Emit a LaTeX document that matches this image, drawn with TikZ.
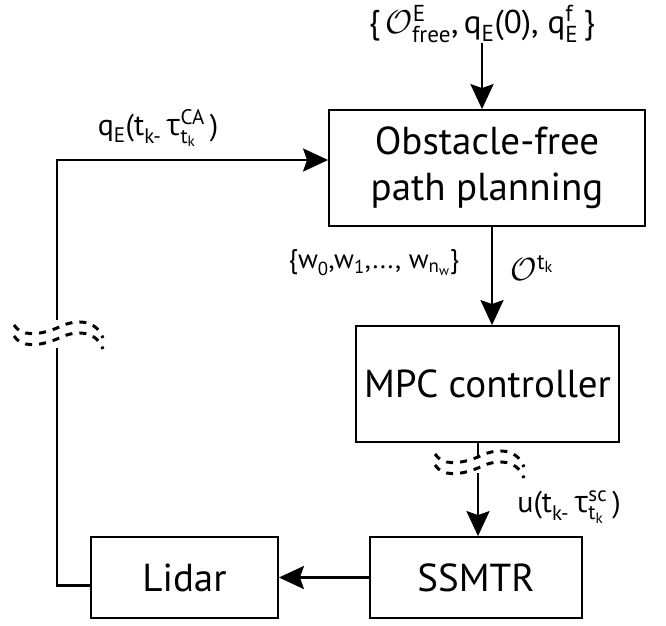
\documentclass[tikz,border=0pt]{standalone}
\usepackage{fix-cm}
\usepackage{amsmath}
\usepackage{fontspec}
\setmainfont{PT Sans}
\newfontfamily\grkfont{Open Sans}
\usetikzlibrary{arrows.meta,calc}

% sans Greek tau for the delay symbols
\newcommand\tauS{\text{\grkfont τ}}

\tikzset{
  wavebreak/.pic={
    \foreach \dy in {0,11} {
      \draw[brk] (-43,-9+\dy) .. controls (-36,2+\dy) and (-20,2+\dy) .. (0,-6+\dy)
                 .. controls (15,-14+\dy) and (38,-17+\dy) .. (46,4+\dy);
    }
  }
}

\begin{document}
\begin{tikzpicture}[x=1pt,y=-1pt,
  blk/.style={draw, line width=1.8pt, inner sep=0pt, align=center,
              font=\fontsize{39}{46}\selectfont},
  wire/.style={line width=2.8pt, line join=miter},
  conn/.style={wire, -{Stealth[length=25pt,width=23pt,inset=4pt]}},
  lbl/.style={inner sep=0pt, font=\fontsize{30}{34}\selectfont},
  brk/.style={line width=3pt, dash pattern=on 7pt off 7pt},
]
\useasboundingbox (0,0) rectangle (666,625);

% blocks
\node[blk, minimum width=316pt, minimum height=116pt] (plan) at (487,168)
  {Obstacle-free\\path planning};
\node[blk, minimum width=263pt, minimum height=116pt] (mpc) at (487.5,384)
  {MPC controller};
\node[blk, minimum width=212pt, minimum height=81pt] (ssmtr) at (476,577.5)
  {SSMTR};
\node[blk, minimum width=187pt, minimum height=81pt] (lidar) at (184.5,577.5)
  {Lidar};

% signal labels
\node[lbl, font=\fontsize{33}{36}\selectfont] (inp) at (482,24)
  {$\text{\{}\,\mathcal{O}^{\text{E}}_{\text{free}}\text{,}\,\text{q}_{\text{E}}\text{(0),}\;\text{q}^{\text{f}}_{\text{E}}\,\text{\}}$};
\node[lbl] (fb) at (158,128)
  {$\text{q}_{\text{E}}\text{(t}_{\text{k-}}\,\tauS^{\text{CA}}_{\text{t}_{\text{k}}}\,\text{)}$};
\node[lbl, font=\fontsize{27}{30}\selectfont] (wp) at (374,263)
  {$\text{\{w}_{\text{0}}\text{,w}_{\text{1}}\text{,...,}\;\text{w}_{\text{n}_{\text{w}}}\text{\}}$};
\node[lbl, font=\fontsize{32}{36}\selectfont] (ot) at (532,268)
  {$\mathcal{O}^{\text{t}_{\text{k}}}$};
\node[lbl] (ud) at (569,507)
  {$\text{u(t}_{\text{k-}}\,\tauS^{\text{sc}}_{\text{t}_{\text{k}}}\,\text{)}$};

% break marks
\coordinate (b1) at (57,334);
\coordinate (b2) at (478,463);
\pic at (b1) {wavebreak};
\pic at (b2) {wavebreak};
\coordinate (b1hi) at ($(b1)+(0,-14)$);
\coordinate (b1lo) at ($(b1)+(0,14)$);
\coordinate (b2hi) at ($(b2)+(0,-7)$);
\coordinate (b2lo) at ($(b2)+(0,10)$);

% connectors
\draw[conn] (inp.south) -- (inp.south |- plan.north);
\coordinate (pout) at ($(plan.south)+(5,0)$);
\draw[conn] (pout) -- (pout |- mpc.north);
\draw[wire] (mpc.south -| b2) -- (b2hi);
\draw[conn] (b2lo) -- (b2lo |- ssmtr.north);
\draw[conn] (ssmtr.west) -- (lidar.east);
\coordinate (lout) at ($(lidar.west)+(0,8)$);
\coordinate (pin) at ($(plan.west)+(0,-8)$);
\draw[wire] (lout) -| (b1lo);
\draw[conn] (b1hi) |- (pin);
\end{tikzpicture}
\end{document}
